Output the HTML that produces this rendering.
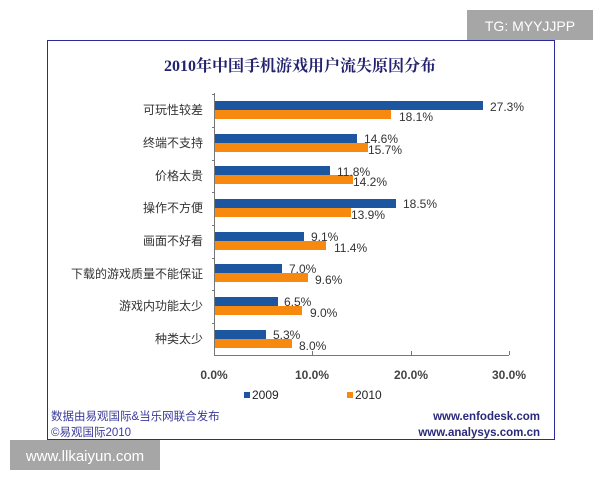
<!DOCTYPE html>
<html><head><meta charset="utf-8"><style>
html,body{margin:0;padding:0;background:#fff;width:600px;height:480px;overflow:hidden}
svg{display:block}
</style></head><body>
<svg width="600" height="480" xmlns="http://www.w3.org/2000/svg" font-family="Liberation Sans, Noto Sans CJK SC, sans-serif">
<rect x="0" y="0" width="600" height="480" fill="#fff"/>
<rect x="47.5" y="40.5" width="507" height="399" fill="#fff" stroke="#2a2a9a" stroke-width="1"/>
<rect x="467" y="10" width="126" height="30" fill="#a6a6a6"/>
<text x="530" y="31" font-size="14" fill="#fff" text-anchor="middle">TG: MYYJJPP</text>
<text x="300" y="71" font-size="16" font-weight="bold" fill="#22226e" text-anchor="middle" font-family="Liberation Serif, Noto Serif CJK SC, serif">2010年中国手机游戏用户流失原因分布</text>
<g stroke="#777" stroke-width="1">
<line x1="214.5" y1="93" x2="214.5" y2="355"/>
<line x1="214" y1="355.5" x2="509" y2="355.5"/>
<line x1="312.5" y1="351" x2="312.5" y2="355"/>
<line x1="411.5" y1="351" x2="411.5" y2="355"/>
<line x1="509.5" y1="351" x2="509.5" y2="355"/>
<line x1="212" y1="94.5" x2="215" y2="94.5"/><line x1="212" y1="127.5" x2="215" y2="127.5"/><line x1="212" y1="160.5" x2="215" y2="160.5"/><line x1="212" y1="192.5" x2="215" y2="192.5"/><line x1="212" y1="225.5" x2="215" y2="225.5"/><line x1="212" y1="258.5" x2="215" y2="258.5"/><line x1="212" y1="290.5" x2="215" y2="290.5"/><line x1="212" y1="323.5" x2="215" y2="323.5"/>
</g>
<g font-size="12" fill="#333">
<g id="bars"></g>
</g>
<g font-size="12" fill="#333" text-anchor="end">
<text x="203" y="114">可玩性较差</text>
<text x="203" y="147">终端不支持</text>
<text x="203" y="180">价格太贵</text>
<text x="203" y="212">操作不方便</text>
<text x="203" y="245">画面不好看</text>
<text x="203" y="278">下载的游戏质量不能保证</text>
<text x="203" y="310">游戏内功能太少</text>
<text x="203" y="343">种类太少</text>
</g>
<g>
<rect x="215" y="101" width="268" height="9" fill="#1d56a0"/><rect x="215" y="110" width="176" height="9" fill="#f7890f"/>
<rect x="215" y="134" width="142" height="9" fill="#1d56a0"/><rect x="215" y="143" width="153" height="9" fill="#f7890f"/>
<rect x="215" y="166" width="115" height="9" fill="#1d56a0"/><rect x="215" y="175" width="138" height="9" fill="#f7890f"/>
<rect x="215" y="199" width="181" height="9" fill="#1d56a0"/><rect x="215" y="208" width="136" height="9" fill="#f7890f"/>
<rect x="215" y="232" width="89" height="9" fill="#1d56a0"/><rect x="215" y="241" width="111" height="9" fill="#f7890f"/>
<rect x="215" y="264" width="67" height="9" fill="#1d56a0"/><rect x="215" y="273" width="93" height="9" fill="#f7890f"/>
<rect x="215" y="297" width="63" height="9" fill="#1d56a0"/><rect x="215" y="306" width="87" height="9" fill="#f7890f"/>
<rect x="215" y="330" width="51" height="9" fill="#1d56a0"/><rect x="215" y="339" width="77" height="9" fill="#f7890f"/>
</g>
<g font-size="12" fill="#333">
<text x="490" y="111">27.3%</text><text x="399" y="121">18.1%</text>
<text x="364" y="143">14.6%</text><text x="368" y="154">15.7%</text>
<text x="337" y="176">11.8%</text><text x="353" y="186">14.2%</text>
<text x="403" y="208">18.5%</text><text x="351" y="219">13.9%</text>
<text x="311" y="241">9.1%</text><text x="334" y="252">11.4%</text>
<text x="289" y="273">7.0%</text><text x="315" y="284">9.6%</text>
<text x="284" y="306">6.5%</text><text x="310" y="317">9.0%</text>
<text x="273" y="339">5.3%</text><text x="299" y="350">8.0%</text>
</g>
<g font-size="12" font-weight="bold" fill="#444" text-anchor="middle">
<text x="214" y="379">0.0%</text><text x="312" y="379">10.0%</text><text x="411" y="379">20.0%</text><text x="509" y="379">30.0%</text>
</g>
<rect x="244" y="392" width="6" height="6" fill="#1d56a0"/>
<text x="252" y="399" font-size="12" fill="#222">2009</text>
<rect x="347" y="392" width="6" height="6" fill="#f7890f"/>
<text x="355" y="399" font-size="12" fill="#222">2010</text>
<g font-size="11.5" fill="#3a3a9a">
<text x="51" y="420">数据由易观国际&amp;当乐网联合发布</text>
<text x="51" y="436">©易观国际2010</text>
<text x="540" y="420" text-anchor="end" font-weight="bold" fill="#2a2a7a">www.enfodesk.com</text>
<text x="540" y="436" text-anchor="end" font-weight="bold" fill="#2a2a7a">www.analysys.com.cn</text>
</g>
<rect x="10" y="440" width="150" height="30" fill="#a6a6a6"/>
<text x="85" y="461" font-size="15" fill="#fff" text-anchor="middle">www.llkaiyun.com</text>
</svg>
</body></html>
